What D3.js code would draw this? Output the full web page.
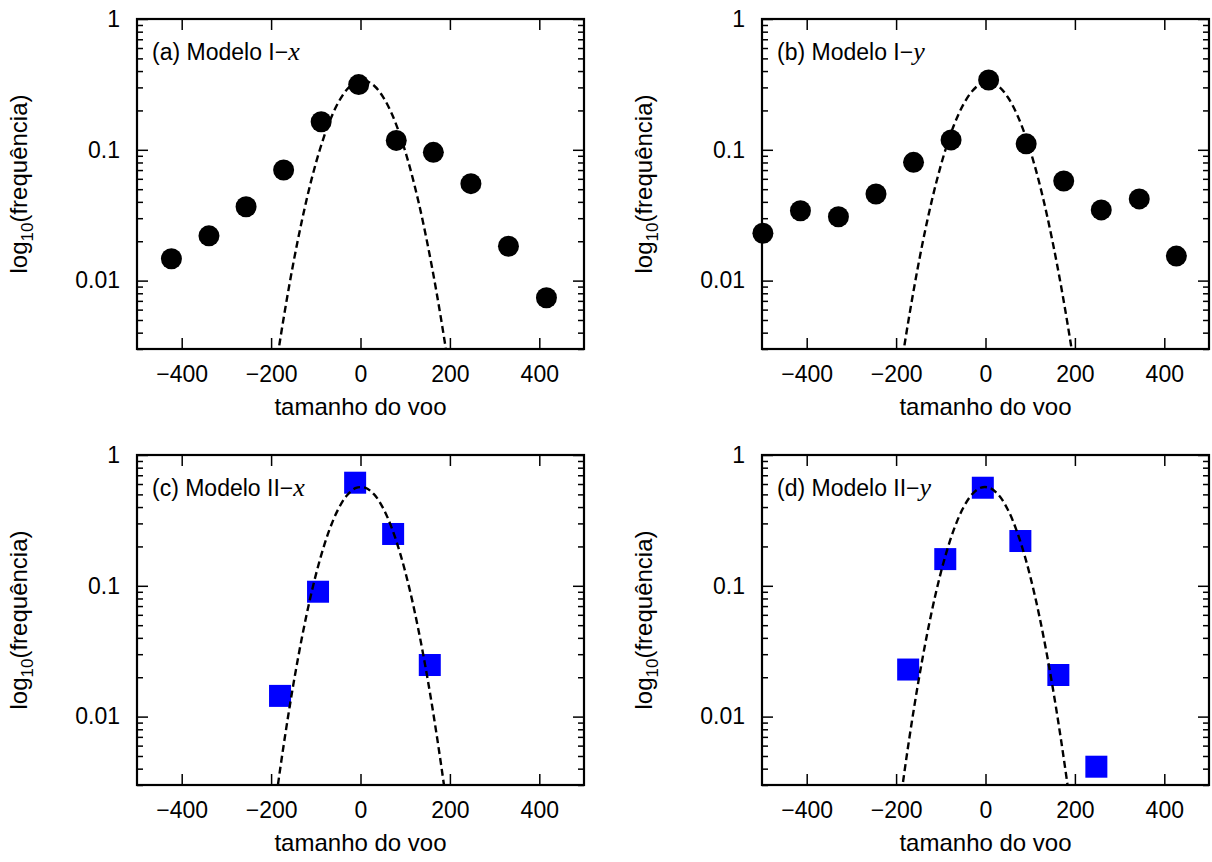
<!DOCTYPE html>
<html>
<head>
<meta charset="utf-8">
<script src="https://cdn.jsdelivr.net/npm/d3@7"></script>
<style>
	body { margin: 0; background: #fff; }
	text { font-family: "Liberation Sans", Arial, Helvetica, sans-serif; fill: #000; }
</style>
</head>
<body>
<svg id="chart" width="1212" height="862"></svg>
<script>
const xTicks = [-400, -200, 0, 200, 400];
const yTicks = [0.01, 0.1, 1];
const yTickLabels = ["0.01", "0.1", "1"];
const yMinor = [0.003, 0.004, 0.005, 0.006, 0.007, 0.008, 0.009,
	0.02, 0.03, 0.04, 0.05, 0.06, 0.07, 0.08, 0.09,
	0.2, 0.3, 0.4, 0.5, 0.6, 0.7, 0.8, 0.9];
const panelNames = ["(a) Modelo I", "(b) Modelo I", "(c) Modelo II", "(d) Modelo II"];
const panelVars = ["x", "y", "x", "y"];
const xTitle = "tamanho do voo";

// pontos medidos
const aX = [-423, -339, -256, -172, -88, -4, 80, 163, 247, 331, 416];
const aY = [0.0147, 0.022, 0.0367, 0.0701, 0.164, 0.315, 0.118, 0.0957, 0.0551, 0.0183, 0.0074];
const bX = [-498, -414, -329, -245, -161, -77, 7, 91, 175, 259, 344, 427];
const bY = [0.023, 0.0342, 0.0308, 0.0459, 0.0802, 0.119, 0.342, 0.111, 0.0577, 0.0347, 0.0421, 0.0154];
const cX = [-180, -95, -12, 73, 155];
const cY = [0.0144, 0.0901, 0.614, 0.249, 0.0248];
const dX = [-173, -90, -6, 78, 163, 248];
const dY = [0.0229, 0.16, 0.562, 0.22, 0.0208, 0.00414];

// curva tracejada
const fitX = [-210, -190, -170, -150, -130, -110, -90, -70, -50, -30, -10,
	10, 30, 50, 70, 90, 110, 130, 150, 170, 190, 210];
const aFit = [0.00069, 0.00209, 0.00566, 0.01374, 0.0299, 0.0586, 0.1028, 0.1619, 0.229, 0.290, 0.331,
	0.338, 0.310, 0.255, 0.1884, 0.125, 0.0743, 0.0397, 0.0190, 0.00818, 0.00315, 0.00109];
const bFit = [0.00069, 0.00206, 0.00553, 0.01336, 0.0290, 0.0565, 0.0990, 0.156, 0.2206, 0.2805, 0.3206,
	0.3293, 0.304, 0.252, 0.188, 0.1259, 0.0758, 0.0410, 0.0199, 0.00871, 0.00342, 0.00121];
const cFit = [0.00065, 0.00222, 0.00668, 0.01778, 0.0419, 0.0876, 0.1618, 0.265, 0.384, 0.4926, 0.560,
	0.563, 0.502, 0.396, 0.2763, 0.1709, 0.0936, 0.0454, 0.0195, 0.0074, 0.00249, 0.00074];
const dFit = [0.00068, 0.00231, 0.00698, 0.0186, 0.0438, 0.0913, 0.1681, 0.2736, 0.3937, 0.5008, 0.5630,
	0.5595, 0.4916, 0.3819, 0.2621, 0.1591, 0.0853, 0.0405, 0.01697, 0.00629, 0.00206, 0.000596];

const w = 447;
const h = 330;
const layout = [
	{ left: 137, top: 19, xs: aX, ys: aY, fit: aFit, mark: "circle" },
	{ left: 762, top: 19, xs: bX, ys: bY, fit: bFit, mark: "circle" },
	{ left: 137, top: 455, xs: cX, ys: cY, fit: cFit, mark: "square" },
	{ left: 762, top: 455, xs: dX, ys: dY, fit: dFit, mark: "square" }
];

const svg = d3.select("#chart");
const xScale = d3.scaleLinear().domain([-500, 500]).range([0, w]);
const yScale = d3.scaleLog().domain([0.003, 1]).range([h, 0]);
const fmt = (d) => (d < 0 ? "\u2212" + Math.abs(d) : String(d));

layout.forEach((p, i) => {
	const g = svg.append("g").attr("transform", "translate(" + p.left + "," + p.top + ")");

	g.append("clipPath")
		.attr("id", "clip" + i)
		.append("rect")
		.attr("width", w)
		.attr("height", h);

	const axes = [
		g.append("g").attr("transform", "translate(0," + h + ")")
			.call(d3.axisBottom(xScale).tickValues(xTicks).tickSizeInner(-11).tickSizeOuter(0).tickPadding(17).tickFormat(fmt)),
		g.append("g")
			.call(d3.axisTop(xScale).tickValues(xTicks).tickSizeInner(-11).tickSizeOuter(0).tickFormat("")),
		g.append("g")
			.call(d3.axisLeft(yScale).tickValues(yTicks).tickSizeInner(-11).tickSizeOuter(0).tickPadding(17)
				.tickFormat((d, j) => yTickLabels[j])),
		g.append("g")
			.call(d3.axisLeft(yScale).tickValues(yMinor).tickSizeInner(-6).tickSizeOuter(0).tickFormat("")),
		g.append("g").attr("transform", "translate(" + w + ",0)")
			.call(d3.axisRight(yScale).tickValues(yTicks).tickSizeInner(-11).tickSizeOuter(0).tickFormat("")),
		g.append("g").attr("transform", "translate(" + w + ",0)")
			.call(d3.axisRight(yScale).tickValues(yMinor).tickSizeInner(-6).tickSizeOuter(0).tickFormat(""))
	];
	axes.forEach((a) => {
		a.select(".domain").remove();
		a.selectAll(".tick line").attr("stroke", "#000").attr("stroke-width", 1.5);
		a.selectAll(".tick text").attr("font-size", 23).attr("font-family", "Liberation Sans, Arial, sans-serif");
	});

	const pts = p.xs.map((x, j) => [x, p.ys[j]]);
	if (p.mark === "circle") {
		g.selectAll(".pt")
			.data(pts)
			.enter()
			.append("circle")
			.attr("class", "pt")
			.attr("cx", (d) => xScale(d[0]))
			.attr("cy", (d) => yScale(d[1]))
			.attr("r", 10.5)
			.attr("fill", "#000");
	} else {
		g.selectAll(".pt")
			.data(pts)
			.enter()
			.append("rect")
			.attr("class", "pt")
			.attr("x", (d) => xScale(d[0]) - 11)
			.attr("y", (d) => yScale(d[1]) - 11)
			.attr("width", 22)
			.attr("height", 22)
			.attr("fill", "#0000ff");
	}

	const line = d3.line()
		.x((d) => xScale(d[0]))
		.y((d) => yScale(d[1]))
		.curve(d3.curveCatmullRom);
	g.append("path")
		.datum(fitX.map((x, j) => [x, p.fit[j]]))
		.attr("clip-path", "url(#clip" + i + ")")
		.attr("d", line)
		.attr("fill", "none")
		.attr("stroke", "#000")
		.attr("stroke-width", 2.4)
		.attr("stroke-dasharray", "7,4");

	g.append("rect")
		.attr("width", w)
		.attr("height", h)
		.attr("fill", "none")
		.attr("stroke", "#000")
		.attr("stroke-width", 2.2);

	const lbl = g.append("text")
		.attr("x", 15)
		.attr("y", 41)
		.attr("font-size", 23);
	lbl.append("tspan").text(panelNames[i] + "\u2212");
	lbl.append("tspan")
		.attr("font-family", "Liberation Serif, Times New Roman, serif")
		.attr("font-style", "italic")
		.attr("font-size", 26)
		.text(panelVars[i]);

	g.append("text")
		.attr("x", w / 2)
		.attr("y", h + 66)
		.attr("text-anchor", "middle")
		.attr("font-size", 24)
		.text(xTitle);

	const yl = g.append("text")
		.attr("transform", "translate(-110," + h / 2 + ") rotate(-90)")
		.attr("text-anchor", "middle")
		.attr("font-size", 24);
	yl.append("tspan").text("log");
	yl.append("tspan").attr("font-size", 17).attr("dy", 6).text("10");
	yl.append("tspan").attr("dy", -6).text("(frequência)");
});
</script>
</body>
</html>
